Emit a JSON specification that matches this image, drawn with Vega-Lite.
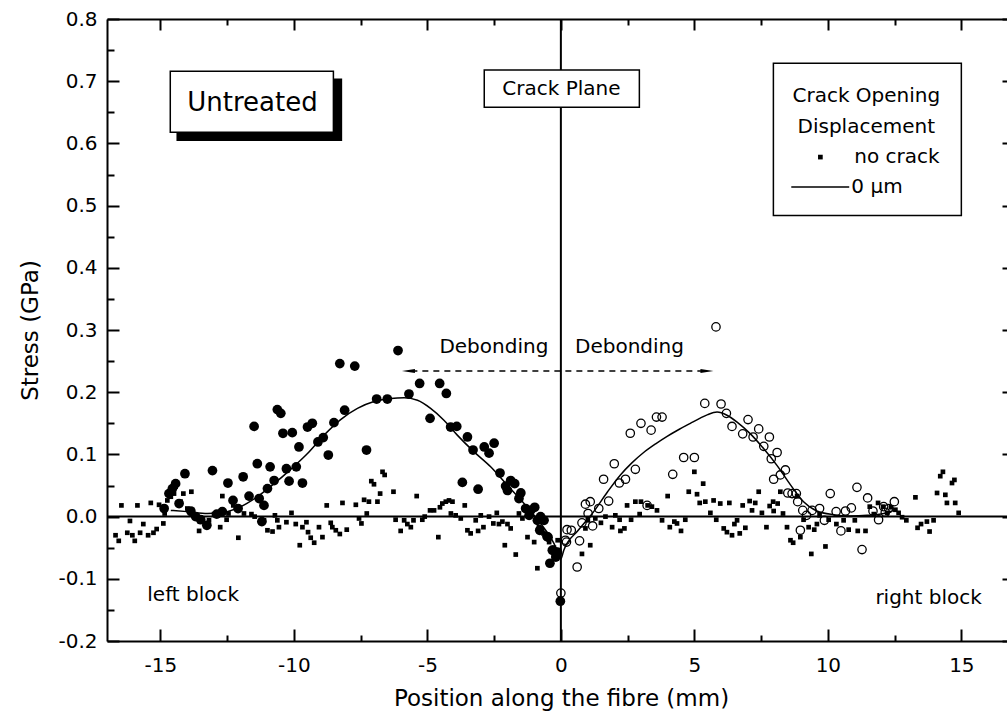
{
  "$schema": "https://vega.github.io/schema/vega-lite/v6.json",
  "width": 900,
  "height": 622,
  "autosize": {"type": "none"},
  "padding": {"left": 107, "top": 19, "right": 0, "bottom": 81},
  "background": "white",
  "config": {
    "view": {"stroke": null},
    "font": "DejaVu Sans",
    "axis": {
      "grid": false,
      "tickColor": "black",
      "tickWidth": 2,
      "domainColor": "black",
      "domainWidth": 2,
      "labelColor": "black",
      "labelFont": "DejaVu Sans",
      "titleColor": "black",
      "titleFont": "DejaVu Sans",
      "titleFontWeight": "normal"
    }
  },
  "datasets": {
    "nocrack": [
      {"x": -16.68, "y": -0.030}, {"x": -16.56, "y": -0.039}, {"x": -16.46, "y": 0.018}, {"x": -16.24, "y": -0.026},
      {"x": -16.14, "y": -0.007}, {"x": -16.05, "y": -0.030}, {"x": -15.96, "y": -0.039}, {"x": -15.86, "y": 0.018},
      {"x": -15.76, "y": -0.026}, {"x": -15.64, "y": -0.012}, {"x": -15.46, "y": -0.030}, {"x": -15.36, "y": 0.022},
      {"x": -15.26, "y": -0.026}, {"x": -15.14, "y": -0.020}, {"x": -15.05, "y": 0.019}, {"x": -14.89, "y": -0.011},
      {"x": -14.84, "y": 0.005}, {"x": -14.74, "y": 0.026}, {"x": -14.61, "y": 0.032}, {"x": -14.49, "y": 0.037},
      {"x": -14.43, "y": 0.048}, {"x": -14.24, "y": 0.024}, {"x": -14.14, "y": 0.037}, {"x": -13.99, "y": 0.013},
      {"x": -13.86, "y": 0.005}, {"x": -13.84, "y": 0.040}, {"x": -13.55, "y": -0.023}, {"x": -13.45, "y": -0.005},
      {"x": -13.18, "y": -0.006}, {"x": -12.99, "y": 0.004}, {"x": -12.76, "y": -0.017}, {"x": -12.68, "y": 0.033},
      {"x": -12.52, "y": -0.005}, {"x": -12.45, "y": 0.005}, {"x": -12.27, "y": 0.018}, {"x": -12.08, "y": -0.034},
      {"x": -11.87, "y": 0.005}, {"x": -11.59, "y": 0.004}, {"x": -11.47, "y": 0.000}, {"x": -11.12, "y": -0.006},
      {"x": -10.99, "y": -0.022}, {"x": -10.80, "y": -0.024}, {"x": -10.71, "y": 0.002}, {"x": -10.62, "y": -0.006},
      {"x": -10.56, "y": -0.017}, {"x": -10.28, "y": -0.009}, {"x": -10.09, "y": 0.006}, {"x": -9.93, "y": -0.012},
      {"x": -9.78, "y": -0.046}, {"x": -9.68, "y": -0.017}, {"x": -9.53, "y": -0.009}, {"x": -9.47, "y": -0.025},
      {"x": -9.37, "y": -0.034}, {"x": -9.24, "y": -0.042}, {"x": -9.06, "y": -0.017}, {"x": -8.93, "y": -0.033},
      {"x": -8.77, "y": 0.018}, {"x": -8.62, "y": -0.010}, {"x": -8.56, "y": -0.017}, {"x": -8.43, "y": -0.022},
      {"x": -8.28, "y": -0.028}, {"x": -8.18, "y": 0.022}, {"x": -8.02, "y": -0.021}, {"x": -7.68, "y": 0.019},
      {"x": -7.56, "y": -0.003}, {"x": -7.47, "y": -0.011}, {"x": -7.37, "y": 0.027}, {"x": -7.27, "y": 0.005},
      {"x": -7.19, "y": 0.024}, {"x": -7.10, "y": 0.057}, {"x": -7.00, "y": 0.052}, {"x": -6.87, "y": 0.024},
      {"x": -6.77, "y": 0.037}, {"x": -6.68, "y": 0.072}, {"x": -6.60, "y": 0.067}, {"x": -6.27, "y": 0.040},
      {"x": -6.19, "y": -0.005}, {"x": -6.00, "y": -0.023}, {"x": -5.87, "y": -0.006}, {"x": -5.75, "y": -0.012},
      {"x": -5.62, "y": -0.017}, {"x": -5.52, "y": -0.006}, {"x": -5.40, "y": 0.033}, {"x": -5.19, "y": -0.005},
      {"x": -5.10, "y": 0.000}, {"x": -4.90, "y": 0.010}, {"x": -4.75, "y": 0.010}, {"x": -4.59, "y": -0.033},
      {"x": -4.53, "y": 0.015}, {"x": -4.44, "y": 0.021}, {"x": -4.31, "y": 0.024}, {"x": -4.19, "y": 0.026},
      {"x": -4.12, "y": 0.005}, {"x": -4.06, "y": 0.024}, {"x": -3.94, "y": 0.002}, {"x": -3.75, "y": -0.003},
      {"x": -3.60, "y": 0.018}, {"x": -3.50, "y": -0.022}, {"x": -3.38, "y": -0.027}, {"x": -3.19, "y": -0.006},
      {"x": -3.10, "y": -0.023}, {"x": -3.00, "y": 0.002}, {"x": -2.90, "y": -0.017}, {"x": -2.69, "y": 0.000},
      {"x": -2.53, "y": -0.011}, {"x": -2.40, "y": 0.006}, {"x": -2.32, "y": -0.012}, {"x": -2.19, "y": -0.008},
      {"x": -2.10, "y": -0.046}, {"x": -2.00, "y": -0.012}, {"x": -1.88, "y": -0.019}, {"x": -1.69, "y": -0.061},
      {"x": -1.57, "y": 0.005}, {"x": -1.44, "y": -0.003}, {"x": -1.25, "y": -0.033}, {"x": -1.00, "y": -0.041},
      {"x": -0.88, "y": -0.083}, {"x": -0.82, "y": -0.017}, {"x": -0.65, "y": -0.027}, {"x": -0.44, "y": -0.041},
      {"x": -0.26, "y": -0.050}, {"x": -0.12, "y": -0.038}, {"x": 0.79, "y": -0.060}, {"x": 1.10, "y": -0.046},
      {"x": 0.92, "y": -0.019}, {"x": 1.01, "y": -0.006}, {"x": 1.29, "y": -0.003}, {"x": 1.50, "y": -0.010},
      {"x": 1.67, "y": 0.000}, {"x": 1.92, "y": -0.017}, {"x": 2.04, "y": 0.002}, {"x": 2.20, "y": -0.005},
      {"x": 2.23, "y": -0.023}, {"x": 2.38, "y": -0.019}, {"x": 2.48, "y": 0.018}, {"x": 2.63, "y": -0.005},
      {"x": 2.79, "y": 0.024}, {"x": 2.95, "y": 0.004}, {"x": 3.00, "y": 0.024}, {"x": 3.25, "y": 0.018},
      {"x": 3.41, "y": 0.016}, {"x": 3.60, "y": 0.010}, {"x": 3.79, "y": -0.006}, {"x": 4.00, "y": 0.033},
      {"x": 4.08, "y": -0.017}, {"x": 4.25, "y": -0.008}, {"x": 4.35, "y": -0.011}, {"x": 4.50, "y": -0.023},
      {"x": 4.66, "y": -0.005}, {"x": 4.79, "y": 0.040}, {"x": 5.00, "y": 0.072}, {"x": 5.10, "y": 0.036},
      {"x": 5.20, "y": 0.022}, {"x": 5.33, "y": 0.053}, {"x": 5.41, "y": 0.024}, {"x": 5.60, "y": 0.006},
      {"x": 5.72, "y": 0.026}, {"x": 5.82, "y": -0.005}, {"x": 5.97, "y": 0.021}, {"x": 6.10, "y": -0.019},
      {"x": 6.22, "y": -0.025}, {"x": 6.31, "y": 0.022}, {"x": 6.41, "y": -0.030}, {"x": 6.50, "y": -0.012},
      {"x": 6.60, "y": -0.006}, {"x": 6.70, "y": -0.027}, {"x": 6.81, "y": 0.018}, {"x": 6.91, "y": -0.018},
      {"x": 7.07, "y": 0.025}, {"x": 7.16, "y": 0.010}, {"x": 7.28, "y": 0.022}, {"x": 7.41, "y": 0.040},
      {"x": 7.53, "y": 0.006}, {"x": 7.70, "y": -0.017}, {"x": 7.82, "y": 0.017}, {"x": 7.95, "y": 0.024},
      {"x": 7.97, "y": 0.009}, {"x": 8.12, "y": 0.021}, {"x": 8.22, "y": 0.040}, {"x": 8.32, "y": 0.005},
      {"x": 8.47, "y": -0.017}, {"x": 8.60, "y": -0.038}, {"x": 8.70, "y": -0.042}, {"x": 8.85, "y": 0.033},
      {"x": 8.97, "y": -0.033}, {"x": 9.09, "y": -0.005}, {"x": 9.28, "y": -0.017}, {"x": 9.38, "y": -0.060},
      {"x": 9.49, "y": -0.021}, {"x": 9.59, "y": -0.012}, {"x": 9.69, "y": 0.002}, {"x": 9.91, "y": -0.048},
      {"x": 10.03, "y": -0.005}, {"x": 10.32, "y": -0.012}, {"x": 10.59, "y": -0.006}, {"x": 10.78, "y": -0.021},
      {"x": 11.01, "y": -0.006}, {"x": 11.12, "y": -0.023}, {"x": 11.41, "y": -0.023}, {"x": 11.57, "y": 0.016},
      {"x": 11.72, "y": 0.004}, {"x": 11.88, "y": 0.022}, {"x": 12.07, "y": 0.016}, {"x": 12.22, "y": 0.006},
      {"x": 12.37, "y": 0.015}, {"x": 12.53, "y": 0.011}, {"x": 12.65, "y": 0.006}, {"x": 12.78, "y": -0.001},
      {"x": 12.94, "y": -0.006}, {"x": 13.28, "y": 0.031}, {"x": 13.36, "y": -0.018}, {"x": 13.49, "y": -0.012},
      {"x": 13.71, "y": -0.008}, {"x": 13.81, "y": -0.024}, {"x": 13.96, "y": -0.006}, {"x": 14.09, "y": 0.038},
      {"x": 14.21, "y": 0.065}, {"x": 14.31, "y": 0.072}, {"x": 14.40, "y": 0.035}, {"x": 14.46, "y": 0.022},
      {"x": 14.65, "y": 0.054}, {"x": 14.74, "y": 0.059}, {"x": 14.77, "y": 0.022}, {"x": 14.90, "y": 0.006}
    ],
    "left": [
      {"x": -14.86, "y": 0.013}, {"x": -14.68, "y": 0.037}, {"x": -14.55, "y": 0.045}, {"x": -14.43, "y": 0.053},
      {"x": -14.30, "y": 0.021}, {"x": -14.08, "y": 0.069}, {"x": -13.86, "y": 0.009}, {"x": -13.68, "y": 0.000},
      {"x": -13.49, "y": -0.005}, {"x": -13.26, "y": -0.014}, {"x": -13.05, "y": 0.074}, {"x": -12.89, "y": 0.004},
      {"x": -12.68, "y": 0.008}, {"x": -12.47, "y": 0.054}, {"x": -12.28, "y": 0.026}, {"x": -12.09, "y": 0.013},
      {"x": -11.90, "y": 0.064}, {"x": -11.68, "y": 0.033}, {"x": -11.49, "y": 0.145}, {"x": -11.37, "y": 0.085},
      {"x": -11.30, "y": 0.029}, {"x": -11.20, "y": -0.008}, {"x": -11.12, "y": 0.018}, {"x": -10.99, "y": 0.045},
      {"x": -10.89, "y": 0.080}, {"x": -10.74, "y": 0.058}, {"x": -10.62, "y": 0.172}, {"x": -10.49, "y": 0.166},
      {"x": -10.41, "y": 0.134}, {"x": -10.28, "y": 0.077}, {"x": -10.18, "y": 0.057}, {"x": -10.06, "y": 0.135},
      {"x": -9.91, "y": 0.080}, {"x": -9.81, "y": 0.112}, {"x": -9.68, "y": 0.054}, {"x": -9.49, "y": 0.144},
      {"x": -9.31, "y": 0.150}, {"x": -9.10, "y": 0.120}, {"x": -8.90, "y": 0.127}, {"x": -8.71, "y": 0.099},
      {"x": -8.50, "y": 0.151}, {"x": -8.28, "y": 0.246}, {"x": -8.10, "y": 0.171}, {"x": -7.72, "y": 0.242},
      {"x": -7.28, "y": 0.107}, {"x": -6.90, "y": 0.189}, {"x": -6.50, "y": 0.189}, {"x": -6.10, "y": 0.267},
      {"x": -5.69, "y": 0.197}, {"x": -5.29, "y": 0.214}, {"x": -4.90, "y": 0.158}, {"x": -4.54, "y": 0.214},
      {"x": -4.29, "y": 0.198}, {"x": -4.13, "y": 0.144}, {"x": -3.90, "y": 0.145}, {"x": -3.69, "y": 0.055},
      {"x": -3.50, "y": 0.128}, {"x": -3.29, "y": 0.107}, {"x": -3.10, "y": 0.044}, {"x": -2.87, "y": 0.112},
      {"x": -2.69, "y": 0.102}, {"x": -2.50, "y": 0.118}, {"x": -2.28, "y": 0.070}, {"x": -2.07, "y": 0.049},
      {"x": -2.00, "y": 0.042}, {"x": -1.88, "y": 0.058}, {"x": -1.73, "y": 0.053}, {"x": -1.57, "y": 0.029},
      {"x": -1.50, "y": 0.038}, {"x": -1.32, "y": 0.013}, {"x": -1.19, "y": 0.002}, {"x": -1.13, "y": 0.010},
      {"x": -0.98, "y": 0.015}, {"x": -0.88, "y": -0.006}, {"x": -0.79, "y": -0.022}, {"x": -0.76, "y": 0.000},
      {"x": -0.63, "y": -0.006}, {"x": -0.52, "y": -0.032}, {"x": -0.48, "y": -0.033}, {"x": -0.41, "y": -0.075},
      {"x": -0.32, "y": -0.054}, {"x": -0.21, "y": -0.057}, {"x": -0.19, "y": -0.065}, {"x": -0.13, "y": -0.057},
      {"x": -0.02, "y": -0.136}
    ],
    "right": [
      {"x": 0.00, "y": -0.123}, {"x": 0.17, "y": -0.038}, {"x": 0.21, "y": -0.041}, {"x": 0.23, "y": -0.021},
      {"x": 0.39, "y": -0.022}, {"x": 0.61, "y": -0.081}, {"x": 0.70, "y": -0.039}, {"x": 0.79, "y": -0.010},
      {"x": 0.92, "y": 0.020}, {"x": 1.02, "y": 0.005}, {"x": 1.10, "y": 0.024}, {"x": 1.19, "y": -0.015},
      {"x": 1.42, "y": 0.013}, {"x": 1.60, "y": 0.060}, {"x": 1.79, "y": 0.025}, {"x": 2.00, "y": 0.085},
      {"x": 2.19, "y": 0.054}, {"x": 2.42, "y": 0.060}, {"x": 2.60, "y": 0.134}, {"x": 2.79, "y": 0.076},
      {"x": 3.00, "y": 0.150}, {"x": 3.23, "y": 0.018}, {"x": 3.38, "y": 0.139}, {"x": 3.58, "y": 0.160},
      {"x": 3.79, "y": 0.160}, {"x": 4.19, "y": 0.068}, {"x": 4.60, "y": 0.095}, {"x": 5.00, "y": 0.095},
      {"x": 5.39, "y": 0.182}, {"x": 5.81, "y": 0.305}, {"x": 6.00, "y": 0.181}, {"x": 6.20, "y": 0.166},
      {"x": 6.41, "y": 0.145}, {"x": 6.81, "y": 0.133}, {"x": 7.01, "y": 0.156}, {"x": 7.20, "y": 0.128},
      {"x": 7.41, "y": 0.141}, {"x": 7.60, "y": 0.113}, {"x": 7.81, "y": 0.128}, {"x": 7.88, "y": 0.093},
      {"x": 7.97, "y": 0.060}, {"x": 8.10, "y": 0.103}, {"x": 8.22, "y": 0.067}, {"x": 8.41, "y": 0.075},
      {"x": 8.50, "y": 0.038}, {"x": 8.66, "y": 0.037}, {"x": 8.82, "y": 0.037}, {"x": 8.87, "y": 0.024},
      {"x": 8.97, "y": -0.022}, {"x": 9.06, "y": 0.010}, {"x": 9.20, "y": 0.002}, {"x": 9.41, "y": 0.010},
      {"x": 9.69, "y": 0.013}, {"x": 9.87, "y": -0.006}, {"x": 10.09, "y": 0.037}, {"x": 10.31, "y": 0.008},
      {"x": 10.49, "y": -0.023}, {"x": 10.66, "y": 0.009}, {"x": 10.88, "y": 0.014}, {"x": 11.09, "y": 0.047},
      {"x": 11.28, "y": -0.053}, {"x": 11.49, "y": 0.030}, {"x": 11.69, "y": 0.009}, {"x": 11.90, "y": -0.005},
      {"x": 12.09, "y": 0.016}, {"x": 12.15, "y": 0.007}, {"x": 12.28, "y": 0.013}, {"x": 12.49, "y": 0.024}
    ],
    "fit": [
      {"x": -14.61, "y": 0.010}, {"x": -13.99, "y": 0.008}, {"x": -13.24, "y": 0.005}, {"x": -12.74, "y": 0.006},
      {"x": -11.99, "y": 0.016}, {"x": -11.37, "y": 0.032}, {"x": -10.74, "y": 0.053}, {"x": -10.12, "y": 0.076},
      {"x": -9.50, "y": 0.101}, {"x": -8.87, "y": 0.131}, {"x": -8.25, "y": 0.156}, {"x": -7.62, "y": 0.174},
      {"x": -7.00, "y": 0.185}, {"x": -6.37, "y": 0.190}, {"x": -5.87, "y": 0.191}, {"x": -5.37, "y": 0.187},
      {"x": -4.88, "y": 0.174}, {"x": -4.38, "y": 0.155}, {"x": -3.88, "y": 0.131}, {"x": -3.25, "y": 0.104},
      {"x": -2.63, "y": 0.080}, {"x": -2.00, "y": 0.050}, {"x": -1.38, "y": 0.021}, {"x": -0.76, "y": -0.011},
      {"x": -0.26, "y": -0.043}, {"x": 0.00, "y": -0.068}, {"x": 0.11, "y": -0.054}, {"x": 0.65, "y": -0.022},
      {"x": 1.23, "y": 0.008}, {"x": 1.75, "y": 0.040}, {"x": 2.23, "y": 0.067}, {"x": 2.65, "y": 0.086},
      {"x": 3.10, "y": 0.103}, {"x": 3.55, "y": 0.117}, {"x": 3.98, "y": 0.129}, {"x": 4.42, "y": 0.140},
      {"x": 4.85, "y": 0.150}, {"x": 5.20, "y": 0.158}, {"x": 5.50, "y": 0.164}, {"x": 5.85, "y": 0.168},
      {"x": 6.22, "y": 0.163}, {"x": 6.60, "y": 0.152}, {"x": 7.10, "y": 0.133}, {"x": 7.60, "y": 0.109},
      {"x": 8.10, "y": 0.082}, {"x": 8.60, "y": 0.051}, {"x": 9.09, "y": 0.024}, {"x": 9.59, "y": 0.009},
      {"x": 10.22, "y": 0.003}, {"x": 10.84, "y": 0.001}, {"x": 11.47, "y": 0.002}, {"x": 12.09, "y": 0.005},
      {"x": 12.47, "y": 0.010}
    ]
  },
  "resolve": {"axis": {"x": "independent", "y": "independent"}},
  "layer": [
    {
      "data": {"values": [{"y": 0}]},
      "mark": {"type": "rule", "color": "black", "strokeWidth": 2},
      "encoding": {
        "y": {"field": "y", "type": "quantitative", "scale": {"domain": [-0.2, 0.8]}, "axis": null}
      }
    },
    {
      "data": {"values": [{"x": 0}]},
      "mark": {"type": "rule", "color": "black", "strokeWidth": 2},
      "encoding": {
        "x": {"field": "x", "type": "quantitative", "scale": {"domain": [-17, 16.71]}, "axis": null}
      }
    },
    {
      "data": {"name": "nocrack"},
      "mark": {"type": "square", "size": 22, "color": "black", "opacity": 1},
      "encoding": {
        "x": {
          "field": "x", "type": "quantitative", "scale": {"domain": [-17, 16.71], "nice": false, "zero": false},
          "axis": {
            "orient": "bottom", "values": [-15, -10, -5, 0, 5, 10, 15], "tickSize": -12,
            "labelFontSize": 20, "labelPadding": 26,
            "labelExpr": "datum.value < 0 ? '-' + format(-datum.value, 'd') : format(datum.value, 'd')",
            "title": "Position along the fibre (mm)", "titleFontSize": 23,
            "titleX": 454, "titleY": 57, "titleBaseline": "middle", "titleAnchor": "middle", "titleAlign": "center"
          }
        },
        "y": {
          "field": "y", "type": "quantitative", "scale": {"domain": [-0.2, 0.8], "nice": false, "zero": false},
          "axis": {
            "orient": "left", "values": [-0.2, -0.1, 0, 0.1, 0.2, 0.3, 0.4, 0.5, 0.6, 0.7, 0.8], "tickSize": -12,
            "labelFontSize": 20, "labelPadding": 22,
            "labelExpr": "datum.value < 0 ? '-' + format(-datum.value, '.1f') : format(datum.value, '.1f')",
            "title": "Stress (GPa)", "titleFontSize": 23,
            "titleX": -77, "titleY": 311, "titleBaseline": "middle", "titleAlign": "center", "titleAngle": -90
          }
        }
      }
    },
    {
      "data": {"name": "left"},
      "mark": {"type": "point", "shape": "circle", "filled": true, "size": 95, "color": "black", "opacity": 1},
      "encoding": {
        "x": {
          "field": "x", "type": "quantitative", "scale": {"domain": [-17, 16.71]},
          "axis": {"orient": "top", "values": [-15, -10, -5, 0, 5, 10, 15], "tickSize": -11, "labels": false, "title": null}
        },
        "y": {
          "field": "y", "type": "quantitative", "scale": {"domain": [-0.2, 0.8]},
          "axis": {"orient": "right", "offset": 7, "values": [-0.2, -0.1, 0, 0.1, 0.2, 0.3, 0.4, 0.5, 0.6, 0.7, 0.8], "tickSize": -12, "labels": false, "title": null}
        }
      }
    },
    {
      "data": {"name": "right"},
      "mark": {"type": "point", "shape": "circle", "filled": false, "size": 70, "color": "black", "strokeWidth": 1.3, "opacity": 1},
      "encoding": {
        "x": {
          "field": "x", "type": "quantitative", "scale": {"domain": [-17, 16.71]},
          "axis": {"orient": "bottom", "values": [-12.5, -7.5, -2.5, 2.5, 7.5, 12.5], "tickSize": -6, "labels": false, "domain": false, "title": null}
        },
        "y": {
          "field": "y", "type": "quantitative", "scale": {"domain": [-0.2, 0.8]},
          "axis": {"orient": "left", "values": [-0.15, -0.05, 0.05, 0.15, 0.25, 0.35, 0.45, 0.55, 0.65, 0.75], "tickSize": -7, "labels": false, "domain": false, "title": null}
        }
      }
    },
    {
      "data": {"name": "fit"},
      "mark": {"type": "line", "color": "black", "strokeWidth": 1.5, "interpolate": "monotone"},
      "encoding": {
        "x": {
          "field": "x", "type": "quantitative", "scale": {"domain": [-17, 16.71]},
          "axis": {"orient": "top", "values": [-12.5, -7.5, -2.5, 2.5, 7.5, 12.5], "tickSize": -6, "labels": false, "domain": false, "title": null}
        },
        "y": {
          "field": "y", "type": "quantitative", "scale": {"domain": [-0.2, 0.8]},
          "axis": {"orient": "right", "offset": 7, "values": [-0.15, -0.05, 0.05, 0.15, 0.25, 0.35, 0.45, 0.55, 0.65, 0.75], "tickSize": -7, "labels": false, "domain": false, "title": null}
        },
        "order": {"field": "x", "type": "quantitative"}
      }
    },
    {
      "data": {"values": [
        {"x": -14.37, "x2": -8.22, "y": 0.703, "y2": 0.605, "fill": "black"},
        {"x": -14.63, "x2": -8.52, "y": 0.716, "y2": 0.618, "fill": "white"},
        {"x": -2.87, "x2": 2.94, "y": 0.718, "y2": 0.658, "fill": "white"},
        {"x": 7.96, "x2": 15.0, "y": 0.729, "y2": 0.484, "fill": "white"}
      ]},
      "mark": {"type": "rect", "stroke": "black", "strokeWidth": 1.5},
      "encoding": {
        "x": {"field": "x", "type": "quantitative", "axis": null},
        "x2": {"field": "x2"},
        "y": {"field": "y", "type": "quantitative", "axis": null},
        "y2": {"field": "y2"},
        "fill": {"field": "fill", "type": "nominal", "scale": null}
      }
    },
    {
      "data": {"values": [
        {"x": -11.55, "y": 0.665, "label": "Untreated", "size": 26},
        {"x": 0.02, "y": 0.687, "label": "Crack Plane", "size": 20},
        {"x": 11.44, "y": 0.677, "label": "Crack Opening", "size": 20},
        {"x": 11.44, "y": 0.626, "label": "Displacement", "size": 20},
        {"x": -2.51, "y": 0.272, "label": "Debonding", "size": 20},
        {"x": 2.57, "y": 0.272, "label": "Debonding", "size": 20}
      ]},
      "mark": {"type": "text", "color": "black", "baseline": "middle", "align": "center", "font": "DejaVu Sans"},
      "encoding": {
        "x": {"field": "x", "type": "quantitative", "axis": null},
        "y": {"field": "y", "type": "quantitative", "axis": null},
        "text": {"field": "label"},
        "size": {"field": "size", "type": "quantitative", "scale": null}
      }
    },
    {
      "data": {"values": [
        {"x": 10.99, "y": 0.578, "label": "no crack"},
        {"x": 10.88, "y": 0.530, "label": "0 μm"},
        {"x": -15.49, "y": -0.126, "label": "left block"},
        {"x": 11.78, "y": -0.131, "label": "right block"}
      ]},
      "mark": {"type": "text", "color": "black", "baseline": "middle", "align": "left", "fontSize": 20, "font": "DejaVu Sans"},
      "encoding": {
        "x": {"field": "x", "type": "quantitative", "axis": null},
        "y": {"field": "y", "type": "quantitative", "axis": null},
        "text": {"field": "label"}
      }
    },
    {
      "data": {"values": [{"x": 9.72, "y": 0.578}]},
      "mark": {"type": "square", "size": 22, "color": "black", "opacity": 1},
      "encoding": {
        "x": {"field": "x", "type": "quantitative", "axis": null},
        "y": {"field": "y", "type": "quantitative", "axis": null}
      }
    },
    {
      "data": {"values": [{"x": 8.63, "x2": 10.80, "y": 0.530}]},
      "mark": {"type": "rule", "color": "black", "strokeWidth": 1.5},
      "encoding": {
        "x": {"field": "x", "type": "quantitative", "axis": null},
        "x2": {"field": "x2"},
        "y": {"field": "y", "type": "quantitative", "axis": null}
      }
    },
    {
      "data": {"values": [{"x": -5.6, "x2": 5.35, "y": 0.234}]},
      "mark": {"type": "rule", "color": "black", "strokeWidth": 1.5, "strokeDash": [6, 5]},
      "encoding": {
        "x": {"field": "x", "type": "quantitative", "axis": null},
        "x2": {"field": "x2"},
        "y": {"field": "y", "type": "quantitative", "axis": null}
      }
    },
    {
      "data": {"values": [{"x": -5.71, "y": 0.234}]},
      "mark": {"type": "point", "shape": "M-1,0L1,-0.3L1,0.3Z", "filled": true, "size": 169, "color": "black", "opacity": 1},
      "encoding": {
        "x": {"field": "x", "type": "quantitative", "axis": null},
        "y": {"field": "y", "type": "quantitative", "axis": null}
      }
    },
    {
      "data": {"values": [{"x": 5.47, "y": 0.234}]},
      "mark": {"type": "point", "shape": "M1,0L-1,-0.3L-1,0.3Z", "filled": true, "size": 169, "color": "black", "opacity": 1},
      "encoding": {
        "x": {"field": "x", "type": "quantitative", "axis": null},
        "y": {"field": "y", "type": "quantitative", "axis": null}
      }
    }
  ]
}
